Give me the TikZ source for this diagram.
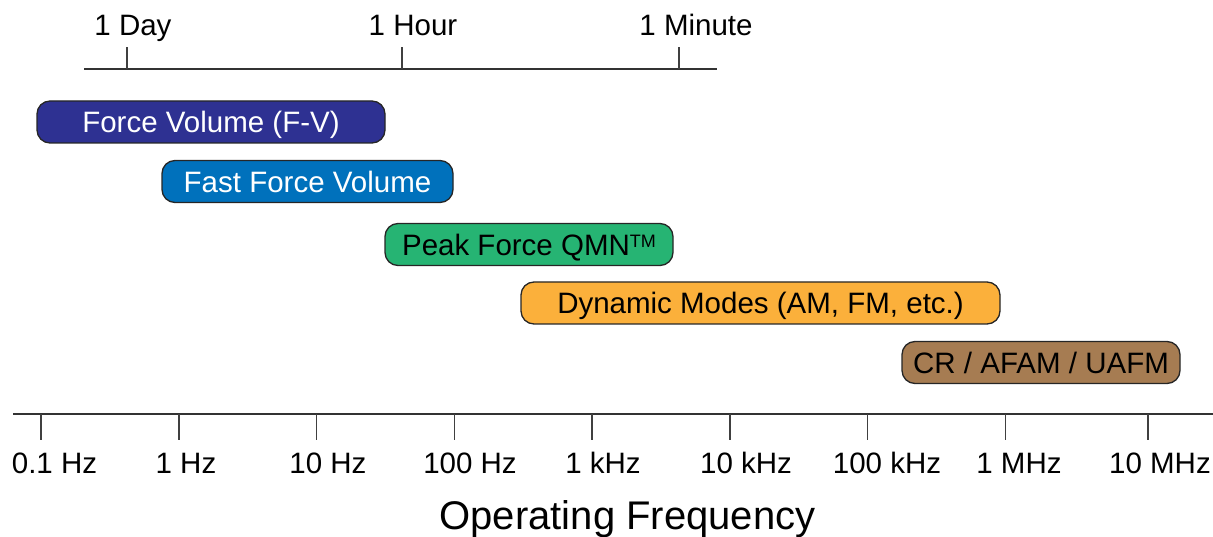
\documentclass[tikz,border=0pt]{standalone}
\usepackage{fontspec}
\setmainfont{Liberation Sans}
\begin{document}
\begin{tikzpicture}[x=1pt,y=-1pt,
  axisline/.style={draw=black!80,line width=1.8pt},
  tickline/.style={draw=black!75,line width=1.4pt},
  lbl/.style={inner sep=0pt,anchor=base,font=\fontsize{29.5}{34}\selectfont},
  bar/.style={draw=black!85,line width=1.3pt,rounded corners=13pt,inner sep=0pt,
    minimum height=42pt,text height=21.2pt,text depth=0pt,
    font=\fontsize{29.5}{34}\selectfont},
]
\definecolor{fvblue}{HTML}{2E3192}
\definecolor{ffblue}{HTML}{0071BC}
\definecolor{pfgreen}{HTML}{26B473}
\definecolor{dmorange}{HTML}{FBB03B}
\definecolor{crbrown}{HTML}{A67C52}
\useasboundingbox (0,0) rectangle (1213,537);

% time scale
\coordinate (tL) at (84,69);
\coordinate (tR) at (717,69);
\draw[axisline] (tL) -- (tR);
\foreach \x/\lx/\t/\n in {127/133/1 Day/day, 402/413/1 Hour/hour, 679/696/1 Minute/minute}{
  \coordinate (t\n) at (\x,69);
  \draw[tickline] (t\n) -- ++(0,-22);
  \node[lbl] (l\n) at (\lx,36) {\t};
}

% technique ranges
\node[bar,fill=fvblue,text=white,minimum width=348pt] (fv) at (211,122) {Force Volume (F-V)};
\node[bar,fill=ffblue,text=white,minimum width=291pt] (ffv) at (307.5,181.5) {Fast Force Volume};
\node[bar,fill=pfgreen,minimum width=288pt] (pf) at (529,244.5)
  {Peak Force QMN\raisebox{8pt}{\fontsize{18}{20}\selectfont TM}};
\node[bar,fill=dmorange,minimum width=479pt] (dm) at (760.5,303) {Dynamic Modes (AM, FM, etc.)};
\node[bar,fill=crbrown,minimum width=278pt] (cr) at (1041,362.5) {CR / AFAM / UAFM};

% frequency scale
\coordinate (fL) at (13,414);
\coordinate (fR) at (1213,414);
\draw[axisline] (fL) -- (fR);
\foreach \x/\lx/\t/\n in {41/54.5/0.1 Hz/a, 178.8/186/1 Hz/b, 316.5/328/10 Hz/c,
    454.3/470/100 Hz/d, 592/603/1 kHz/e, 729.8/746/10 kHz/f, 867.5/887/100 kHz/g,
    1005.3/1019/1 MHz/h, 1148/1160/10 MHz/i}{
  \coordinate (f\n) at (\x,414);
  \draw[tickline] (f\n) -- ++(0,26);
  \node[lbl] (fl\n) at (\lx,473) {\t};
}
\node[inner sep=0pt,anchor=base,font=\fontsize{40}{46}\selectfont] (title) at (627.5,529) {Operating Frequency};
\end{tikzpicture}
\end{document}
